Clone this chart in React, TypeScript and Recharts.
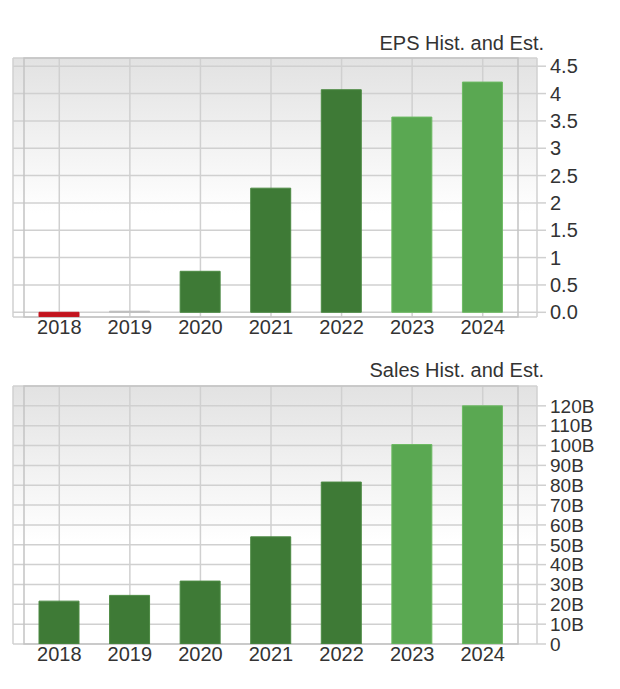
import React from 'react';
import { BarChart, Bar, XAxis, YAxis, CartesianGrid, ReferenceArea, Cell } from 'recharts';

const years = ['2018', '2019', '2020', '2021', '2022', '2023', '2024'];
const epsValues = [-0.08, 0.02, 0.75, 2.27, 4.07, 3.57, 4.21];
const salesValues = [21.6, 24.5, 31.7, 54.0, 81.6, 100.5, 120.0]; // billions
const isEstimate = [false, false, false, false, false, true, true];

const epsTicks = [0, 0.5, 1, 1.5, 2, 2.5, 3, 3.5, 4, 4.5];
const salesTicks = [0, 10, 20, 30, 40, 50, 60, 70, 80, 90, 100, 110, 120];

const FONT = '"Liberation Sans", Arial, Helvetica, sans-serif';
const TEXT = '#333333';
const GRID = '#d0d0d0';
const BORDER = '#c4c4c4';

const epsData = years.map((year, i) => ({ year, value: epsValues[i], est: isEstimate[i] }));
const salesData = years.map((year, i) => ({ year, value: salesValues[i], est: isEstimate[i] }));

function barFill(value: number, est: boolean) {
  if (value < 0) return '#c3141e';
  if (value < 0.05) return '#bdbdbd';
  return est ? '#5aa852' : '#3e7a36';
}

function barStroke(value: number, est: boolean) {
  if (value < 0) return '#c3141e';
  if (value < 0.05) return '#bdbdbd';
  return est ? '#6dba63' : '#4c8a43';
}

interface PanelProps {
  id: string;
  data: { year: string; value: number; est: boolean }[];
  ticks: number[];
  domain: [number, number];
  format: (v: number) => string;
  height: number;
  top: number;
  tickFont: number;
}

function Panel({ id, data, ticks, domain, format, height, top, tickFont }: PanelProps) {
  return (
    <BarChart
      width={620}
      height={height}
      data={data}
      margin={{ top, right: 0, bottom: 0, left: 13 }}
      barSize={40}
    >
      <defs>
        <linearGradient id={id} x1="0" y1="0" x2="0" y2="1">
          <stop offset="0%" stopColor="#e2e2e2" />
          <stop offset="60%" stopColor="#ffffff" />
          <stop offset="100%" stopColor="#ffffff" />
        </linearGradient>
      </defs>
      <CartesianGrid stroke={GRID} strokeWidth={1.5} fill={`url(#${id})`} fillOpacity={1} />
      <ReferenceArea y1={domain[0]} y2={domain[1]} fill="none" stroke={BORDER} strokeWidth={1.5} ifOverflow="visible" />
      <XAxis
        dataKey="year"
        axisLine={false}
        tickLine={false}
        tickSize={0}
        tickMargin={3}
        height={30}
        padding={{ left: 11, right: 19 }}
        interval={0}
        tick={{ fill: TEXT, fontSize: 20, fontFamily: FONT }}
      />
      <YAxis
        orientation="right"
        width={83}
        domain={domain}
        ticks={ticks}
        allowDataOverflow
        axisLine={false}
        tickSize={9}
        tickMargin={4}
        tickLine={{ stroke: GRID, strokeWidth: 1.5 }}
        tickFormatter={format}
        interval={0}
        tick={{ fill: TEXT, fontSize: tickFont, fontFamily: FONT, textAnchor: 'start' }}
      />
      <Bar dataKey="value" isAnimationActive={false} strokeWidth={1}>
        {data.map((d) => (
          <Cell key={d.year} fill={barFill(d.value, d.est)} stroke={barStroke(d.value, d.est)} />
        ))}
      </Bar>
    </BarChart>
  );
}

const titleStyle: React.CSSProperties = {
  position: 'absolute',
  right: 76,
  fontFamily: FONT,
  fontSize: 20,
  lineHeight: '20px',
  color: TEXT,
  whiteSpace: 'nowrap',
};

export default function App() {
  return (
    <div style={{ position: 'absolute', left: 0, top: 0, width: 620, height: 689, background: '#ffffff' }}>
      <div style={{ ...titleStyle, top: 33 }}>EPS Hist. and Est.</div>
      <div style={{ position: 'absolute', left: 0, top: 0 }}>
        <Panel
          id="epsBg"
          data={epsData}
          ticks={epsTicks}
          domain={[-0.086, 4.65]}
          format={(v) => (v === 0 ? '0.0' : String(v))}
          height={347}
          top={58}
          tickFont={20}
        />
      </div>
      <div style={{ ...titleStyle, top: 360 }}>Sales Hist. and Est.</div>
      <div style={{ position: 'absolute', left: 0, top: 347 }}>
        <Panel
          id="salesBg"
          data={salesData}
          ticks={salesTicks}
          domain={[0, 130]}
          format={(v) => (v === 0 ? '0' : `${v}B`)}
          height={327}
          top={39}
          tickFont={19}
        />
      </div>
    </div>
  );
}
